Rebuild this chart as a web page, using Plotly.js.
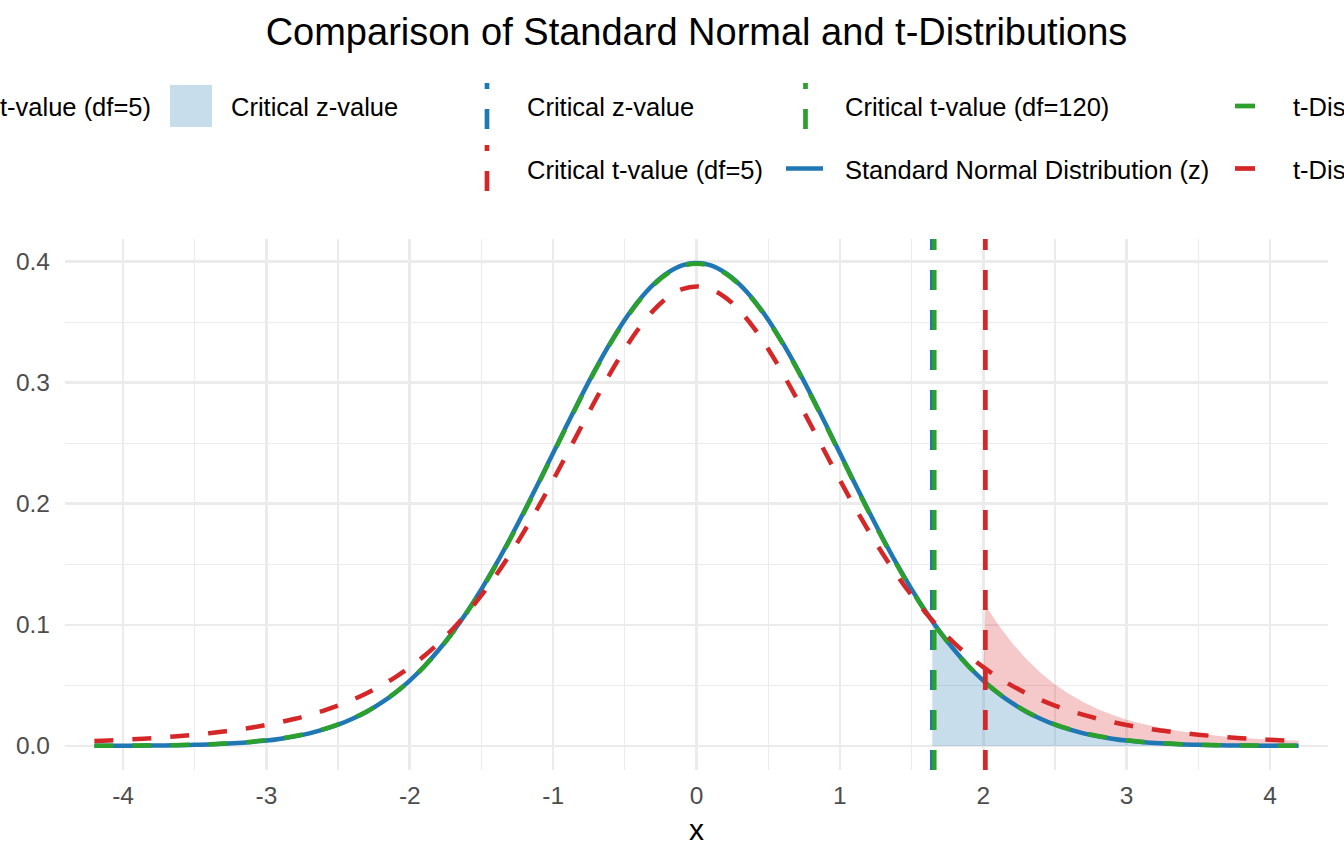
<!DOCTYPE html>
<html>
<head>
<meta charset="utf-8">
<script src="https://cdn.plot.ly/plotly-3.0.1.min.js"></script>
<style>html,body{margin:0;padding:0;background:#fff;}#chart{width:1344px;height:864px;}</style>
</head>
<body>
<div id="chart"></div>
<script>
// ---------------- data ----------------
var xGrid = [-4.2,-4.1,-4.0,-3.9,-3.8,-3.7,-3.6,-3.5,-3.4,-3.3,-3.2,-3.1,-3.0,-2.9,-2.8,-2.7,-2.6,-2.5,-2.4,-2.3,-2.2,-2.1,-2.0,-1.9,-1.8,-1.7,-1.6,-1.5,-1.4,-1.3,-1.2,-1.1,-1.0,-0.9,-0.8,-0.7,-0.6,-0.5,-0.4,-0.3,-0.2,-0.1,0.0,0.1,0.2,0.3,0.4,0.5,0.6,0.7,0.8,0.9,1.0,1.1,1.2,1.3,1.4,1.5,1.6,1.7,1.8,1.9,2.0,2.1,2.2,2.3,2.4,2.5,2.6,2.7,2.8,2.9,3.0,3.1,3.2,3.3,3.4,3.5,3.6,3.7,3.8,3.9,4.0,4.1,4.2];

var normalY = [0.0001,0.0001,0.0001,0.0002,0.0003,0.0004,0.0006,0.0009,0.0012,0.0017,0.0024,0.0033,0.0044,0.0060,0.0079,0.0104,0.0136,0.0175,0.0224,0.0283,0.0355,0.0440,0.0540,0.0656,0.0790,0.0940,0.1109,0.1295,0.1497,0.1714,0.1942,0.2179,0.2420,0.2661,0.2897,0.3123,0.3332,0.3521,0.3683,0.3814,0.3910,0.3970,0.3989,0.3970,0.3910,0.3814,0.3683,0.3521,0.3332,0.3123,0.2897,0.2661,0.2420,0.2179,0.1942,0.1714,0.1497,0.1295,0.1109,0.0940,0.0790,0.0656,0.0540,0.0440,0.0355,0.0283,0.0224,0.0175,0.0136,0.0104,0.0079,0.0060,0.0044,0.0033,0.0024,0.0017,0.0012,0.0009,0.0006,0.0004,0.0003,0.0002,0.0001,0.0001,0.0001];

var t120Y = [0.0002,0.0002,0.0002,0.0003,0.0004,0.0005,0.0007,0.0010,0.0014,0.0019,0.0026,0.0035,0.0047,0.0062,0.0082,0.0107,0.0138,0.0178,0.0226,0.0285,0.0356,0.0441,0.0540,0.0655,0.0787,0.0937,0.1104,0.1289,0.1491,0.1707,0.1935,0.2172,0.2413,0.2654,0.2890,0.3116,0.3326,0.3514,0.3677,0.3808,0.3904,0.3964,0.3983,0.3964,0.3904,0.3808,0.3677,0.3514,0.3326,0.3116,0.2890,0.2654,0.2413,0.2172,0.1935,0.1707,0.1491,0.1289,0.1104,0.0937,0.0787,0.0655,0.0540,0.0441,0.0356,0.0285,0.0226,0.0178,0.0138,0.0107,0.0082,0.0062,0.0047,0.0035,0.0026,0.0019,0.0014,0.0010,0.0007,0.0005,0.0004,0.0003,0.0002,0.0002,0.0002];

var t5Y = [0.0041,0.0045,0.0051,0.0057,0.0064,0.0072,0.0082,0.0093,0.0105,0.0119,0.0134,0.0152,0.0173,0.0197,0.0224,0.0256,0.0292,0.0333,0.0381,0.0435,0.0498,0.0569,0.0651,0.0743,0.0848,0.0966,0.1098,0.1245,0.1407,0.1585,0.1777,0.1981,0.2197,0.2420,0.2645,0.2868,0.3081,0.3279,0.3454,0.3598,0.3706,0.3773,0.3796,0.3773,0.3706,0.3598,0.3454,0.3279,0.3081,0.2868,0.2645,0.2420,0.2197,0.1981,0.1777,0.1585,0.1407,0.1245,0.1098,0.0966,0.0848,0.0743,0.0651,0.0569,0.0498,0.0435,0.0381,0.0333,0.0292,0.0256,0.0224,0.0197,0.0173,0.0152,0.0134,0.0119,0.0105,0.0093,0.0082,0.0072,0.0064,0.0057,0.0051,0.0045,0.0041];

// shaded critical regions
var zFillX = [1.645,1.7,1.8,1.9,2.0,2.015,2.1,2.2,2.3,2.4,2.5,2.6,2.7,2.8,2.9,3.0,3.1,3.2,3.3,3.4,3.5,3.6,3.7,3.8,3.9,4.0,4.1,4.2];
var zFillY = [0.1031,0.0940,0.0790,0.0656,0.0540,0.0524,0.0440,0.0355,0.0283,0.0224,0.0175,0.0136,0.0104,0.0079,0.0060,0.0044,0.0033,0.0024,0.0017,0.0012,0.0009,0.0006,0.0004,0.0003,0.0002,0.0001,0.0001,0.0001];
var tFillX = [2.015,2.1,2.2,2.3,2.4,2.5,2.6,2.7,2.8,2.9,3.0,3.1,3.2,3.3,3.4,3.5,3.6,3.7,3.8,3.9,4.0,4.1,4.2];
var tFillY = [0.0638,0.0569,0.0498,0.0435,0.0381,0.0333,0.0292,0.0256,0.0224,0.0197,0.0173,0.0152,0.0134,0.0119,0.0105,0.0093,0.0082,0.0072,0.0064,0.0057,0.0051,0.0045,0.0041];

// critical values
var critNames = ['Critical z-value', 'Critical t-value (df=120)', 'Critical t-value (df=5)'];
var critValues = [1.645, 1.658, 2.015];

var seriesNames = ['Standard Normal Distribution (z)', 't-Distribution (df=120)', 't-Distribution (df=5)'];
var fillNames = ['Critical z-value', 'Critical t-value (df=5)'];

var xTickVals = [-4,-3,-2,-1,0,1,2,3,4];
var xTickText = ['-4','-3','-2','-1','0','1','2','3','4'];
var yTickVals = [0.0,0.1,0.2,0.3,0.4];
var yTickText = ['0.0','0.1','0.2','0.3','0.4'];

// ---------------- style ----------------
var BLUE = '#1F77B4', GREEN = '#2CA02C', RED = '#D62728';
var FONT = 'Liberation Sans, Arial, sans-serif';
var M = {l: 65, r: 16, t: 239, b: 94};
var W = 1344, H = 864;
var PW = W - M.l - M.r, PH = H - M.t - M.b;
function px(x) { return (x - M.l) / PW; }
function py(y) { return (H - M.b - y) / PH; }

var traces = [
  {x: zFillX, y: zFillY, type: 'scatter', mode: 'none', stackgroup: 'crit',
   fillcolor: 'rgba(31,119,180,0.25)', name: fillNames[0], hoverinfo: 'skip'},
  {x: tFillX, y: tFillY, type: 'scatter', mode: 'none', stackgroup: 'crit',
   fillcolor: 'rgba(214,39,40,0.25)', name: fillNames[1], hoverinfo: 'skip'},
  {x: xGrid, y: normalY, type: 'scatter', mode: 'lines', name: seriesNames[0],
   line: {color: BLUE, width: 4.5, shape: 'spline', smoothing: 1}},
  {x: xGrid, y: t120Y, type: 'scatter', mode: 'lines', name: seriesNames[1],
   line: {color: GREEN, width: 4.5, dash: '19px,19px', shape: 'spline', smoothing: 1}},
  {x: xGrid, y: t5Y, type: 'scatter', mode: 'lines', name: seriesNames[2],
   line: {color: RED, width: 4.5, dash: '19px,19px', shape: 'spline', smoothing: 1}}
];

var critColors = [BLUE, GREEN, RED];
var shapes = [];
for (var i = 0; i < critValues.length; i++) {
  shapes.push({type: 'line', xref: 'x', yref: 'paper', x0: critValues[i], x1: critValues[i], y0: 0, y1: 1,
    line: {color: critColors[i], width: 4.7, dash: '20px,20px'}});
}

// ---- legend (drawn manually, clipped at page edges like the reference) ----
var annotations = [];
function legText(x, y, txt, anchor) {
  annotations.push({xref: 'paper', yref: 'paper', x: px(x), y: py(y), text: txt, showarrow: false,
    xanchor: anchor || 'left', yanchor: 'middle', font: {family: FONT, size: 25.5, color: '#000'}});
}
var R1 = 107.5, R2 = 169.5;
shapes.push({type: 'rect', xref: 'paper', yref: 'paper', x0: px(170), x1: px(212), y0: py(127), y1: py(85),
  fillcolor: 'rgba(31,119,180,0.25)', line: {width: 0}});
legText(153, R1, fillNames[1], 'right');
legText(229, R1, fillNames[0]);
shapes.push({type: 'line', xref: 'paper', yref: 'paper', x0: px(487), x1: px(487), y0: py(129), y1: py(83),
  line: {color: BLUE, width: 4.7, dash: '20px,20px'}});
shapes.push({type: 'line', xref: 'paper', yref: 'paper', x0: px(487), x1: px(487), y0: py(191), y1: py(145),
  line: {color: RED, width: 4.7, dash: '20px,20px'}});
shapes.push({type: 'line', xref: 'paper', yref: 'paper', x0: px(805.5), x1: px(805.5), y0: py(129), y1: py(83),
  line: {color: GREEN, width: 4.7, dash: '20px,20px'}});
legText(525, R1, critNames[0]);
legText(525, R2, critNames[2]);
legText(843, R1, critNames[1]);
shapes.push({type: 'line', xref: 'paper', yref: 'paper', x0: px(786), x1: px(823), y0: py(168.5), y1: py(168.5),
  line: {color: BLUE, width: 4.7}});
legText(843, R2, seriesNames[0]);
shapes.push({type: 'line', xref: 'paper', yref: 'paper', x0: px(1235), x1: px(1255), y0: py(106), y1: py(106),
  line: {color: GREEN, width: 4.7}});
shapes.push({type: 'line', xref: 'paper', yref: 'paper', x0: px(1235), x1: px(1255), y0: py(168.5), y1: py(168.5),
  line: {color: RED, width: 4.7}});
legText(1291, R1, seriesNames[1]);
legText(1291, R2, seriesNames[2]);

var layout = {
  width: W, height: H,
  margin: M,
  paper_bgcolor: '#fff', plot_bgcolor: '#fff',
  showlegend: false,
  font: {family: FONT, color: '#4D4D4D'},
  title: {text: 'Comparison of Standard Normal and t-Distributions', xref: 'paper', x: 0.5, xanchor: 'center',
    yref: 'container', y: 1 - 32 / H, yanchor: 'middle', font: {family: FONT, size: 38, color: '#000'}},
  xaxis: {range: [-4.405, 4.405], tickvals: xTickVals, ticktext: xTickText, ticks: '', showline: false,
    zeroline: false, showgrid: true, gridcolor: '#EBEBEB', gridwidth: 2.7,
    minor: {dtick: 0.5, tick0: 0, showgrid: true, gridcolor: '#EBEBEB', gridwidth: 1.3},
    tickfont: {family: FONT, size: 24.5, color: '#4D4D4D'}, ticklabelstandoff: 8,
    title: {text: 'x', standoff: 11, font: {family: FONT, size: 30, color: '#000'}}},
  yaxis: {range: [-0.0199, 0.4188], tickvals: yTickVals, ticktext: yTickText, ticks: '', showline: false,
    zeroline: false, showgrid: true, gridcolor: '#EBEBEB', gridwidth: 2.7,
    minor: {dtick: 0.05, tick0: 0, showgrid: true, gridcolor: '#EBEBEB', gridwidth: 1.3},
    tickfont: {family: FONT, size: 24.5, color: '#4D4D4D'}, ticklabelstandoff: 14},
  shapes: shapes,
  annotations: annotations
};

Plotly.newPlot('chart', traces, layout, {staticPlot: true, displayModeBar: false});
</script>
</body>
</html>
